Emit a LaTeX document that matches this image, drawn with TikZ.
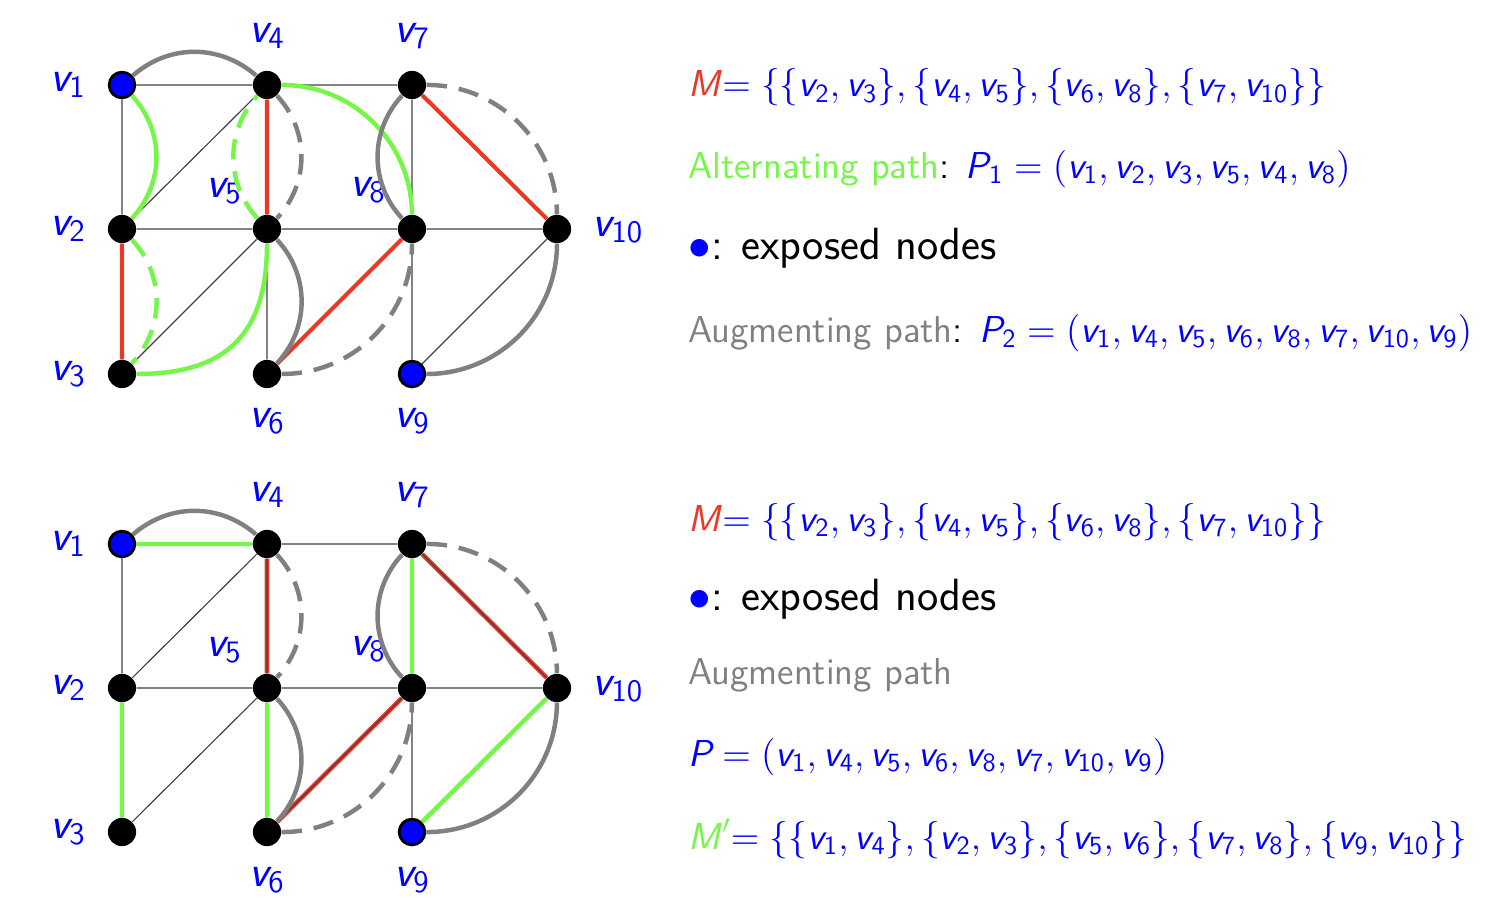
\RequirePackage{fix-cm}
\documentclass[tikz,border=0pt]{standalone}
\definecolor{mred}{RGB}{234,56,38}
\definecolor{mgreen}{RGB}{118,246,72}
\definecolor{mgray}{RGB}{128,128,128}
\definecolor{mblue}{RGB}{0,0,255}
\newcommand\sv{\textsf{\itshape v}}
\newcommand\vx[1]{\sv_{\mathsf{#1}}}
\newcommand\sP{\textsf{\itshape P}}
\newcommand\sM{\textsf{\itshape M\/}}
\tikzset{
  vert/.style={circle, fill=black, inner sep=0pt, minimum size=0.39cm},
  expo/.style={circle, fill=mblue, draw=black, line width=1.1pt, inner sep=0pt, minimum size=0.355cm},
  lab/.style={text=mblue, inner sep=0pt, font=\fontsize{17.5}{21}\selectfont\sffamily},
  txt/.style={anchor=base west, inner sep=0pt, font=\fontsize{14.7}{18}\selectfont\sffamily},
  bigtxt/.style={anchor=base west, inner sep=0pt, font=\fontsize{17.7}{21}\selectfont\sffamily},
  thinedge/.style={draw=black!75, line width=0.45pt},
  thk/.style={line width=1.75pt},
  dsh/.style={dash pattern=on 8pt off 4.7pt},
  redtop/.style={draw=mred, line width=1.6pt},
  redbot/.style={draw=mred, line width=1.8pt},
  grn/.style={draw=mgreen, thk},
  gry/.style={draw=mgray, thk},
}
\begin{document}
\begin{tikzpicture}[x=0.0137931cm, y=-0.0137931cm]
\useasboundingbox (0,0) rectangle (1486,916);

% ---------- top graph ----------
\node[expo] (t1) at (122,85) {};
\node[vert] (t2) at (122,229) {};
\node[vert] (t3) at (122,374) {};
\node[vert] (t4) at (267,85) {};
\node[vert] (t5) at (267,229) {};
\node[vert] (t6) at (267,374) {};
\node[vert] (t7) at (412,85) {};
\node[vert] (t8) at (412,229) {};
\node[expo] (t9) at (412,374) {};
\node[vert] (t10) at (557,229) {};

\node[lab] (tl1) at (68,85) {$\vx1$};
\node[lab] (tl2) at (68,229) {$\vx2$};
\node[lab] (tl3) at (68,374) {$\vx3$};
\node[lab] (tl4) at (267,36) {$\vx4$};
\node[lab] (tl5) at (224,191) {$\vx5$};
\node[lab] (tl6) at (267,421) {$\vx6$};
\node[lab] (tl7) at (412,36) {$\vx7$};
\node[lab] (tl8) at (368,190) {$\vx8$};
\node[lab] (tl9) at (412,421) {$\vx9$};
\node[lab] (tl10) at (618,230) {$\vx{10}$};

\draw[thinedge] (t1)--(t4) (t1)--(t2) (t2)--(t4) (t2)--(t5) (t2)--(t3)
  (t3)--(t5) (t4)--(t5) (t4)--(t7) (t5)--(t6) (t5)--(t8) (t6)--(t8)
  (t7)--(t8) (t7)--(t10) (t8)--(t10) (t8)--(t9) (t9)--(t10);
\draw[redtop] (t2)--(t3) (t4)--(t5) (t6)--(t8) (t7)--(t10);

\draw[grn] (t1) to[bend left=43] (t2);
\draw[grn, dsh] (t2) to[bend left=43] (t3);
\draw[grn] (t3) to[bend right=45, looseness=1.25] (t5);
\draw[grn, dsh] (t5) to[bend left=42] (t4);
\draw[grn] (t4) to[bend left=45] (t8);

\draw[gry] (t1) to[bend left=41] (t4);
\draw[gry, dsh] (t4) to[bend left=43] (t5);
\draw[gry] (t5) to[bend left=43] (t6);
\draw[gry, dsh] (t6) to[bend right=45] (t8);
\draw[gry] (t8) to[bend left=43] (t7);
\draw[gry, dsh] (t7) to[bend left=45] (t10);
\draw[gry] (t10) to[bend left=45] (t9);

% ---------- bottom graph ----------
\node[expo] (b1) at (122,544) {};
\node[vert] (b2) at (122,688) {};
\node[vert] (b3) at (122,832) {};
\node[vert] (b4) at (267,544) {};
\node[vert] (b5) at (267,688) {};
\node[vert] (b6) at (267,832) {};
\node[vert] (b7) at (412,544) {};
\node[vert] (b8) at (412,688) {};
\node[expo] (b9) at (412,832) {};
\node[vert] (b10) at (557,688) {};

\node[lab] (bl1) at (68,544) {$\vx1$};
\node[lab] (bl2) at (68,688) {$\vx2$};
\node[lab] (bl3) at (68,832) {$\vx3$};
\node[lab] (bl4) at (267,495) {$\vx4$};
\node[lab] (bl5) at (224,650) {$\vx5$};
\node[lab] (bl6) at (267,880) {$\vx6$};
\node[lab] (bl7) at (412,495) {$\vx7$};
\node[lab] (bl8) at (368,649) {$\vx8$};
\node[lab] (bl9) at (412,880) {$\vx9$};
\node[lab] (bl10) at (618,689) {$\vx{10}$};

\draw[redbot] (b4)--(b5) (b6)--(b8) (b7)--(b10);
\draw[thinedge] (b1)--(b4) (b1)--(b2) (b2)--(b4) (b2)--(b5) (b2)--(b3)
  (b3)--(b5) (b4)--(b5) (b4)--(b7) (b5)--(b6) (b5)--(b8) (b6)--(b8)
  (b7)--(b8) (b7)--(b10) (b8)--(b10) (b8)--(b9) (b9)--(b10);
\draw[grn] (b1)--(b4) (b2)--(b3) (b5)--(b6) (b7)--(b8) (b9)--(b10);

\draw[gry] (b1) to[bend left=41] (b4);
\draw[gry, dsh] (b4) to[bend left=43] (b5);
\draw[gry] (b5) to[bend left=43] (b6);
\draw[gry, dsh] (b6) to[bend right=45] (b8);
\draw[gry] (b8) to[bend left=43] (b7);
\draw[gry, dsh] (b7) to[bend left=45] (b10);
\draw[gry] (b10) to[bend left=45] (b9);

% ---------- texts ----------
\node[txt] (m1) at (688,97) {\textcolor{mred}{\sM}\textcolor{mblue}{$=\{\{\vx2,\vx3\},\{\vx4,\vx5\},\{\vx6,\vx8\},\{\vx7,\vx{10}\}\}$}};
\node[txt] (a1) at (688,178) {\textcolor{mgreen}{Alternating path}: \textcolor{mblue}{$\sP_{\mathsf1}=(\vx1,\vx2,\vx3,\vx5,\vx4,\vx8)$}};
\node[bigtxt] (e1) at (688,259) {\textcolor{mblue}{$\bullet$}: exposed nodes};
\node[txt] (g1) at (688,342) {\textcolor{mgray}{Augmenting path}: \textcolor{mblue}{$\sP_{\mathsf2}=(\vx1,\vx4,\vx5,\vx6,\vx8,\vx7,\vx{10},\vx9)$}};

\node[txt] (m2) at (688,531) {\textcolor{mred}{\sM}\textcolor{mblue}{$=\{\{\vx2,\vx3\},\{\vx4,\vx5\},\{\vx6,\vx8\},\{\vx7,\vx{10}\}\}$}};
\node[bigtxt] (e2) at (688,610) {\textcolor{mblue}{$\bullet$}: exposed nodes};
\node[txt] (g2) at (688,684) {\textcolor{mgray}{Augmenting path}};
\node[txt] (p2) at (688,766) {\textcolor{mblue}{$\sP=(\vx1,\vx4,\vx5,\vx6,\vx8,\vx7,\vx{10},\vx9)$}};
\node[txt] (m3) at (688,849) {\textcolor{mgreen}{$\sM'$}\textcolor{mblue}{$=\{\{\vx1,\vx4\},\{\vx2,\vx3\},\{\vx5,\vx6\},\{\vx7,\vx8\},\{\vx9,\vx{10}\}\}$}};
\end{tikzpicture}
\end{document}
